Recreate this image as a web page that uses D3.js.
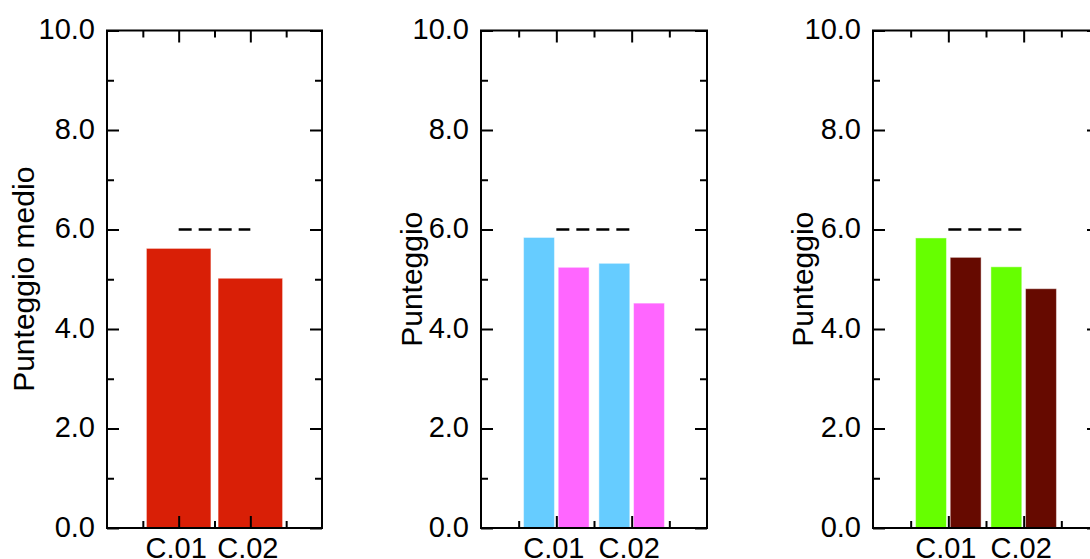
<!DOCTYPE html>
<html><head><meta charset="utf-8">
<script src="https://cdn.jsdelivr.net/npm/d3@7"></script>
<style>
body{margin:0;background:#fff}
svg{display:block}
text{font-family:"Liberation Sans",Arial,Helvetica,sans-serif;fill:#000}
</style></head>
<body><svg id="c" width="1090" height="559"></svg>
<script>
// ---- data ----
const categories = ["C.01", "C.02"];
const yTickValues = [0, 2, 4, 6, 8, 10];
const yTickLabels = ["0.0", "2.0", "4.0", "6.0", "8.0", "10.0"];
const yMinorTicks = [1, 3, 5, 7, 9];
const referenceValue = 6.0;
const yTitles = ["Punteggio medio", "Punteggio", "Punteggio"];
const panel1Values = [5.62, 5.02];
const panel2SeriesA = [5.84, 5.32];
const panel2SeriesB = [5.24, 4.52];
const panel3SeriesA = [5.83, 5.25];
const panel3SeriesB = [5.44, 4.81];

// ---- layout / style ----
const panels = [
  {x0: 107, x1: 322, series: [panel1Values], colors: ["#d91f06"], title: yTitles[0], titleX: 34},
  {x0: 481, x1: 707, series: [panel2SeriesA, panel2SeriesB], colors: ["#66ccff", "#ff66ff"], title: yTitles[1], titleX: 421.5},
  {x0: 873, x1: 1099, series: [panel3SeriesA, panel3SeriesB], colors: ["#66ff00", "#660a00"], title: yTitles[2], titleX: 813}
];
const yBottom = 528, yTop = 30.5;
const svg = d3.select("#c");

panels.forEach(p => {
  const x = d3.scaleLinear().domain([0, 6]).range([p.x0, p.x1]);
  const y = d3.scaleLinear().domain([0, 10]).range([yBottom, yTop]);
  const catPos = i => 2 + 2 * i;
  const g = svg.append("g");

  // bars
  const n = p.series.length;
  p.series.forEach((vals, s) => {
    vals.forEach((v, i) => {
      const c = catPos(i);
      let a, b;
      if (n === 1) { a = c - 0.9; b = c + 0.9; }
      else if (s === 0) { a = c - 0.87; b = c - 0.05; }
      else { a = c + 0.05; b = c + 0.87; }
      g.append("rect")
        .attr("x", x(a)).attr("width", x(b) - x(a))
        .attr("y", y(v)).attr("height", y(0) - y(v))
        .attr("fill", p.colors[s])
        .attr("stroke", "rgba(255,255,255,0.45)").attr("stroke-width", 1);
    });
  });

  // reference dashed line
  g.append("line")
    .attr("x1", x(catPos(0))).attr("x2", x(catPos(categories.length - 1)))
    .attr("y1", y(referenceValue)).attr("y2", y(referenceValue))
    .attr("stroke", "#000").attr("stroke-width", 2.5)
    .attr("stroke-dasharray", "13,7");

  const styleAxis = sel => {
    sel.select(".domain").remove();
    sel.selectAll(".tick line").attr("stroke", "#000").attr("stroke-width", 2);
  };

  // left axis major
  g.append("g").attr("transform", `translate(${p.x0},0)`)
    .call(d3.axisLeft(y).tickValues(yTickValues).tickSize(-12).tickPadding(12)
      .tickFormat((d, i) => yTickLabels[i]))
    .call(styleAxis)
    .call(a => a.selectAll("text").attr("font-size", 29).attr("dy", "0.28em")
      .style("font-family", '"Liberation Sans",Arial,sans-serif').attr("fill", "#000"));
  g.append("g").attr("transform", `translate(${p.x0},0)`)
    .call(d3.axisLeft(y).tickValues(yMinorTicks).tickSize(-7).tickFormat(""))
    .call(styleAxis);
  // right axis
  g.append("g").attr("transform", `translate(${p.x1},0)`)
    .call(d3.axisRight(y).tickValues(yTickValues).tickSize(-12).tickFormat(""))
    .call(styleAxis);
  g.append("g").attr("transform", `translate(${p.x1},0)`)
    .call(d3.axisRight(y).tickValues(yMinorTicks).tickSize(-7).tickFormat(""))
    .call(styleAxis);
  // bottom axis
  g.append("g").attr("transform", `translate(0,${yBottom})`)
    .call(d3.axisBottom(x).tickValues(categories.map((c, i) => catPos(i))).tickSize(-12).tickPadding(9)
      .tickFormat((d, i) => categories[i]))
    .call(styleAxis)
    .call(a => a.selectAll("text").attr("font-size", 29).attr("dx", -3)
      .style("font-family", '"Liberation Sans",Arial,sans-serif').attr("fill", "#000"));
  g.append("g").attr("transform", `translate(0,${yBottom})`)
    .call(d3.axisBottom(x).tickValues([1, 3, 5]).tickSize(-7).tickFormat(""))
    .call(styleAxis);
  // top axis
  g.append("g").attr("transform", `translate(0,${yTop})`)
    .call(d3.axisTop(x).tickValues(categories.map((c, i) => catPos(i))).tickSize(-12).tickFormat(""))
    .call(styleAxis);
  g.append("g").attr("transform", `translate(0,${yTop})`)
    .call(d3.axisTop(x).tickValues([1, 3, 5]).tickSize(-7).tickFormat(""))
    .call(styleAxis);

  // frame
  g.append("rect")
    .attr("x", p.x0).attr("y", yTop)
    .attr("width", p.x1 - p.x0).attr("height", yBottom - yTop)
    .attr("fill", "none").attr("stroke", "#000").attr("stroke-width", 2);

  // y title
  g.append("text")
    .attr("transform", `translate(${p.titleX},${(yTop + yBottom) / 2}) rotate(-90)`)
    .attr("text-anchor", "middle")
    .attr("font-size", 30)
    .text(p.title);
});
</script>
</body></html>
